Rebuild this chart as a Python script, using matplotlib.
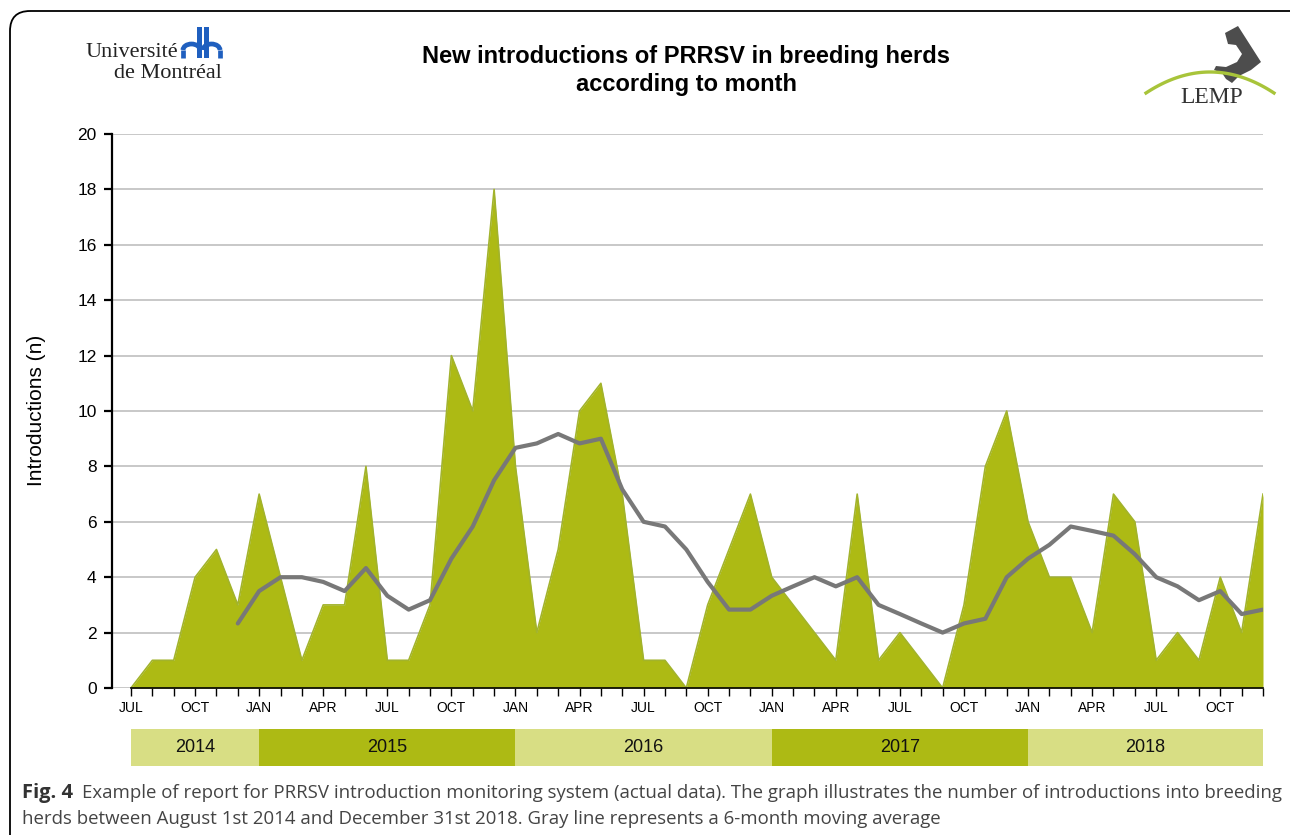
import numpy as np
import matplotlib
matplotlib.use("Agg")
import matplotlib.pyplot as plt
from matplotlib.patches import FancyBboxPatch, Polygon, Rectangle, Arc

plt.rcParams['font.family'] = ['Liberation Sans', 'DejaVu Sans']

# monthly introductions, Jul 2014 .. Dec 2018
months = ["JUL", "AUG", "SEP", "OCT", "NOV", "DEC", "JAN", "FEB", "MAR", "APR", "MAY", "JUN"]
introductions = [0, 1, 1, 4, 5, 3,
                 7, 4, 1, 3, 3, 8, 1, 1, 3, 12, 10, 18,
                 8, 2, 5, 10, 11, 7, 1, 1, 0, 3, 5, 7,
                 4, 3, 2, 1, 7, 1, 2, 1, 0, 3, 8, 10,
                 6, 4, 4, 2, 7, 6, 1, 2, 1, 4, 2, 7]
# 6-month moving average (starts Dec 2014)
ma_start = 5
moving_avg = [2.33, 3.5, 4.0, 4.0, 3.83, 3.5, 4.33, 3.33, 2.83, 3.17, 4.67, 5.83, 7.5,
              8.67, 8.83, 9.17, 8.83, 9.0, 7.17, 6.0, 5.83, 5.0, 3.83, 2.83, 2.83,
              3.33, 3.67, 4.0, 3.67, 4.0, 3.0, 2.67, 2.33, 2.0, 2.33, 2.5, 4.0,
              4.67, 5.17, 5.83, 5.67, 5.5, 4.83, 4.0, 3.67, 3.17, 3.5, 2.67, 2.83]
years = ["2014", "2015", "2016", "2017", "2018"]
year_start = [0, 6, 18, 30, 42]
year_end = [6, 18, 30, 42, 53]
year_colors = ["#d8de84", "#adba14", "#d8de84", "#adba14", "#d8de84"]

W, H = 1290, 835
fig = plt.figure(figsize=(W / 100, H / 100), dpi=100)

# overlay in pixel coordinates for frame + logos
bg = fig.add_axes([0, 0, 1, 1], zorder=0)
bg.set_xlim(0, W)
bg.set_ylim(H, 0)
bg.axis("off")
bg.add_patch(FancyBboxPatch((10, 11), W + 40, H + 60, boxstyle="round,pad=0,rounding_size=20",
                            fill=False, edgecolor="black", linewidth=1.3))

# Université de Montréal logo
bg.text(178, 57, "Université", fontsize=16, family="Liberation Serif", ha="right", va="baseline", color="#222")
bg.text(222, 78, "de Montréal", fontsize=16, family="Liberation Serif", ha="right", va="baseline", color="#222")
blue = "#1f5fbf"
bg.add_patch(Rectangle((196.5, 27), 5, 31, color=blue, linewidth=0))
bg.add_patch(Rectangle((203.5, 27), 5, 31, color=blue, linewidth=0))
for cx in (191.5, 211.5):
    bg.add_patch(Arc((cx, 50), 17, 12, theta1=180, theta2=360, color=blue, linewidth=3.4))
for lx in (183, 220):
    bg.plot([lx, lx], [50, 58], color=blue, linewidth=3.4, solid_capstyle="butt")

# LEMP logo
t = np.linspace(0, 1, 60)
bg.plot(1146 + 128 * t, 93 - 84 * t * (1 - t), color="#a8c43a", linewidth=2.4)
bg.add_patch(Polygon([(1225, 33), (1238, 26), (1261, 62), (1251, 70), (1239, 76), (1232, 83),
                      (1226, 79), (1222, 73), (1214, 70), (1216, 66), (1226, 67), (1237, 62),
                      (1242, 54), (1236, 45), (1228, 44)],
                     closed=True, color="#4d4d4d", linewidth=0))
bg.text(1212, 103, "LEMP", fontsize=17, family="Liberation Serif", ha="center", va="baseline", color="#333")

# title
fig.text(686 / W, 1 - 57 / H, "New introductions of PRRSV in breeding herds", ha="center", va="center",
         fontsize=17, fontweight="bold")
fig.text(686 / W, 1 - 85 / H, "according to month", ha="center", va="center",
         fontsize=17, fontweight="bold")

# main chart
x = np.arange(len(introductions))
ax = fig.add_axes([112 / W, 1 - 688 / H, (1263 - 112) / W, (688 - 134) / H], zorder=2)
ax.patch.set_alpha(0)
ax.fill_between(x, introductions, 0, color="#adba14", linewidth=0, zorder=2)
ax.plot(x, introductions, color="#a2b32c", linewidth=1.2, zorder=3)
ax.plot(np.arange(ma_start, ma_start + len(moving_avg)), moving_avg, color="#787878",
        linewidth=3, zorder=4, solid_capstyle="round")

ax.set_xlim(-0.89, 53)
ax.set_ylim(0, 20)
ax.set_yticks(range(0, 21, 2))
ax.yaxis.grid(True, color="#b9b9b9", linewidth=1.1)
ax.set_axisbelow(True)
ax.tick_params(axis="y", length=6, width=1.6, labelsize=12.5, pad=5)
ax.set_xticks(x)
ax.set_xticklabels([months[i % 12] if i % 3 == 0 else "" for i in x])
ax.tick_params(axis="x", length=6, width=1, labelsize=10, pad=3)
for s in ("top", "right"):
    ax.spines[s].set_visible(False)
ax.spines["left"].set_linewidth(1.6)
ax.spines["bottom"].set_linewidth(1.2)
ax.spines["bottom"].set_bounds(0, 53)
ax.spines["bottom"].set_zorder(5)

fig.text(37 / W, 1 - 410 / H, "Introductions (n)", rotation=90, ha="center", va="center", fontsize=15)

# year band
axy = fig.add_axes([112 / W, 1 - 766 / H, (1263 - 112) / W, (766 - 729) / H], zorder=2)
axy.set_xlim(-0.89, 53)
axy.set_ylim(0, 1)
axy.axis("off")
for yr, s, e, c in zip(years, year_start, year_end, year_colors):
    axy.barh(0.5, e - s, left=s, height=1, color=c, linewidth=0)
    axy.text((s + e) / 2, 0.5, yr, ha="center", va="center", fontsize=13, color="#111")

# caption
cap_font = ["Open Sans", "DejaVu Sans"]
fig.text(22 / W, 1 - 793 / H, "Fig. 4", fontsize=14.5, fontweight="bold", family=cap_font,
         va="center", color="#333")
fig.text(82 / W, 1 - 793 / H,
         "Example of report for PRRSV introduction monitoring system (actual data). The graph illustrates the number of introductions into breeding",
         fontsize=13.4, family=cap_font, va="center", color="#444")
fig.text(22 / W, 1 - 819 / H,
         "herds between August 1st 2014 and December 31st 2018. Gray line represents a 6-month moving average",
         fontsize=13.4, family=cap_font, va="center", color="#444")

fig.savefig("out.png", dpi=100)
